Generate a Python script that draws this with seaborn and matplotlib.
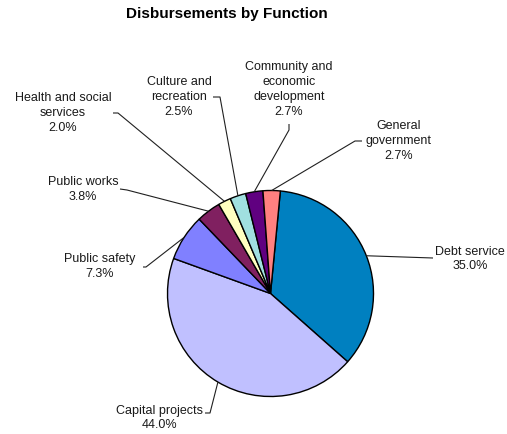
import matplotlib
matplotlib.use("Agg")
import matplotlib.pyplot as plt
import seaborn as sns
import numpy as np

# ---- data ----
categories = ["Debt service", "Capital projects", "Public safety", "Public works",
              "Health and social\nservices", "Culture and\nrecreation",
              "Community and\neconomic\ndevelopment", "General\ngovernment"]
values = [35.0, 44.0, 7.3, 3.8, 2.0, 2.5, 2.7, 2.7]
pct_labels = ["35.0%", "44.0%", "7.3%", "3.8%", "2.0%", "2.5%", "2.7%", "2.7%"]
colors = ["#0080C0", "#C0C0FF", "#8080FF", "#802060",
          "#FFFFC0", "#A0E0E0", "#600080", "#FF8080"]

# ---- layout (pixel coordinates, y from top) ----
W, H = 507, 434
center_px = (270.5, 293.5)
radius_px = 103
label_pos = [(470, 259), (160, 418), (100, 266.5), (83, 189.5),
             (63, 113), (179, 97), (289, 89.5), (399, 141)]
text_edge = [(433, 258), (205, 413), (143, 267), (120, 189),
             (113, 113), (213, 97), (289, 124), (362, 141)]
elbow = [(433, 258), (210, 413), (146, 267), (127, 190),
         (118, 113), (220, 97), (289, 130), (355, 141)]

sns.set_theme(style="white")
plt.rcParams['font.family'] = ['Liberation Sans', 'DejaVu Sans']

fig = plt.figure(figsize=(W / 100, H / 100), dpi=100)
fig.patch.set_facecolor("white")
ax = fig.add_axes([0, 0, 1, 1])


def fy(y):
    return H - y


palette = sns.color_palette(colors)
wedges, _ = ax.pie(values, colors=palette, startangle=84.5, counterclock=False,
                   center=(center_px[0], fy(center_px[1])), radius=radius_px,
                   wedgeprops=dict(edgecolor="black", linewidth=1.0))

ax.set_xlim(0, W)
ax.set_ylim(0, H)
ax.set_aspect("auto")
ax.axis("off")

for w, cat, pct, lp, te, el in zip(wedges, categories, pct_labels, label_pos, text_edge, elbow):
    mid = np.deg2rad((w.theta1 + w.theta2) / 2)
    ax_x = center_px[0] + radius_px * np.cos(mid)
    ax_y = fy(center_px[1]) + radius_px * np.sin(mid)
    xs = [te[0], el[0], ax_x]
    ys = [fy(te[1]), fy(el[1]), ax_y]
    ax.plot(xs, ys, color="#202020", linewidth=0.8, solid_capstyle="butt")
    ax.text(lp[0], fy(lp[1]), f"{cat}\n{pct}", ha="center", va="center",
            multialignment="center", fontsize=9, color="#1a1a1a", linespacing=1.33)

fig.text(227 / W, 1 - 14 / H, "Disbursements by Function", ha="center", va="center",
         fontsize=11, fontweight="bold", color="black")

fig.savefig("out.png", dpi=100, facecolor="white")
